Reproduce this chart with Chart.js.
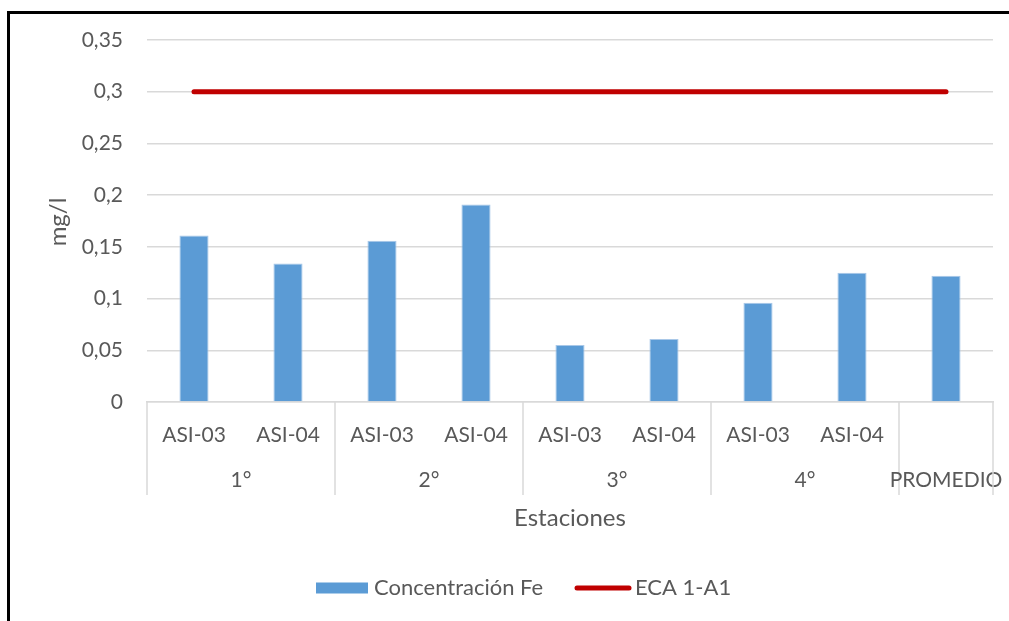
<!DOCTYPE html>
<html>
<head>
<meta charset="utf-8">
<script src="https://cdn.jsdelivr.net/npm/chart.js@4.4.1/dist/chart.umd.min.js"></script>
<style>
  html, body { margin: 0; padding: 0; background: #ffffff; }
  #wrap { position: relative; width: 1009px; height: 621px; overflow: hidden; }
  canvas { display: block; }
</style>
</head>
<body>
<div id="wrap"><canvas id="chart" width="1009" height="621"></canvas></div>
<script>
// Sampling stations (lower axis level) and campaigns (upper axis level)
const stations = ['ASI-03', 'ASI-04', 'ASI-03', 'ASI-04', 'ASI-03', 'ASI-04', 'ASI-03', 'ASI-04', ''];
const campaigns = ['1°', '2°', '3°', '4°', 'PROMEDIO'];
const campaignSizes = [2, 2, 2, 2, 1];

// Iron concentration (mg/l) and the ECA 1-A1 standard
const concentracionFe = [0.161, 0.134, 0.156, 0.191, 0.055, 0.061, 0.096, 0.125, 0.122];
const ecaLimit = [0.3, 0.3, 0.3, 0.3, 0.3, 0.3, 0.3, 0.3, 0.3];

const yMin = 0;
const yMax = 0.35;
const yStep = 0.05;

const FONT = 'Lato, "Open Sans", sans-serif';
const TEXT = '#595959';
const GRID = '#D9D9D9';

// Outer frame, grouped category axis, axis titles and legend
const decorations = {
  id: 'decorations',
  beforeDraw(chart) {
    const ctx = chart.ctx;
    ctx.save();
    ctx.fillStyle = '#ffffff';
    ctx.fillRect(0, 0, chart.width, chart.height);
    ctx.fillStyle = '#000000';
    ctx.fillRect(7, 11, 3, chart.height);
    ctx.fillRect(7, 11, chart.width, 3);
    ctx.restore();
  },
  afterDraw(chart) {
    const ctx = chart.ctx;
    const x = chart.scales.x;
    const area = chart.chartArea;
    const half = (x.getPixelForValue(1) - x.getPixelForValue(0)) / 2;
    ctx.save();

    // Campaign separators and labels
    ctx.strokeStyle = GRID;
    ctx.lineWidth = 1.5;
    ctx.fillStyle = TEXT;
    ctx.font = '21px ' + FONT;
    ctx.textAlign = 'center';
    ctx.textBaseline = 'middle';
    let idx = 0;
    const drawSep = (px) => {
      ctx.beginPath();
      ctx.moveTo(px, area.bottom);
      ctx.lineTo(px, 495);
      ctx.stroke();
    };
    drawSep(x.getPixelForValue(0) - half);
    campaigns.forEach((name, g) => {
      const first = idx;
      const last = idx + campaignSizes[g] - 1;
      const center = (x.getPixelForValue(first) + x.getPixelForValue(last)) / 2;
      ctx.fillText(name, center, 480);
      drawSep(x.getPixelForValue(last) + half);
      idx = last + 1;
    });

    // Axis titles
    ctx.font = '24px ' + FONT;
    ctx.fillText('Estaciones', (area.left + area.right) / 2, 518);
    ctx.translate(58, 222);
    ctx.rotate(-Math.PI / 2);
    ctx.fillText('mg/l', 0, 0);
    ctx.setTransform(1, 0, 0, 1, 0, 0);

    // Legend
    const bars = chart.data.datasets.find(d => d.type === 'bar');
    const line = chart.data.datasets.find(d => d.type === 'line');
    ctx.font = '22px ' + FONT;
    ctx.textAlign = 'left';
    ctx.textBaseline = 'middle';
    const ly = 588;
    ctx.fillStyle = bars.backgroundColor;
    ctx.fillRect(316, ly - 5.5, 52, 11);
    ctx.fillStyle = TEXT;
    ctx.fillText(bars.label, 374, ly);
    ctx.strokeStyle = line.borderColor;
    ctx.lineWidth = 5;
    ctx.lineCap = 'round';
    ctx.beginPath();
    ctx.moveTo(577, ly);
    ctx.lineTo(629, ly);
    ctx.stroke();
    ctx.fillText(line.label, 635, ly);
    ctx.restore();
  }
};

new Chart(document.getElementById('chart'), {
  data: {
    labels: stations,
    datasets: [
      {
        type: 'line',
        label: 'ECA 1-A1',
        data: ecaLimit,
        borderColor: '#C00000',
        backgroundColor: '#C00000',
        borderWidth: 5,
        borderCapStyle: 'round',
        pointRadius: 0,
        pointHoverRadius: 0,
        fill: false,
        order: 0
      },
      {
        type: 'bar',
        label: 'Concentración Fe',
        data: concentracionFe,
        backgroundColor: '#5B9BD5',
        borderColor: '#A9C8E8',
        borderWidth: 1,
        categoryPercentage: 1,
        barPercentage: 0.31,
        order: 1
      }
    ]
  },
  options: {
    responsive: false,
    animation: false,
    layout: { padding: { left: 0, right: 16, top: 40, bottom: 0 } },
    plugins: {
      legend: { display: false },
      tooltip: { enabled: false }
    },
    scales: {
      x: {
        type: 'category',
        grid: { display: false, drawTicks: false },
        border: { display: true, color: GRID, width: 1.5 },
        ticks: {
          color: TEXT,
          font: { family: FONT, size: 21 },
          padding: 21,
          maxRotation: 0,
          autoSkip: false
        },
        afterFit(scale) { scale.height = 219; }
      },
      y: {
        min: yMin,
        max: yMax,
        grid: { color: GRID, lineWidth: 1.5, drawTicks: false },
        border: { display: false },
        ticks: {
          stepSize: yStep,
          color: TEXT,
          font: { family: FONT, size: 21 },
          padding: 24,
          callback: (v) => String(Math.round(v * 100) / 100).replace('.', ',')
        },
        afterFit(scale) { scale.width = 147; }
      }
    }
  },
  plugins: [decorations]
});
</script>
</body>
</html>
